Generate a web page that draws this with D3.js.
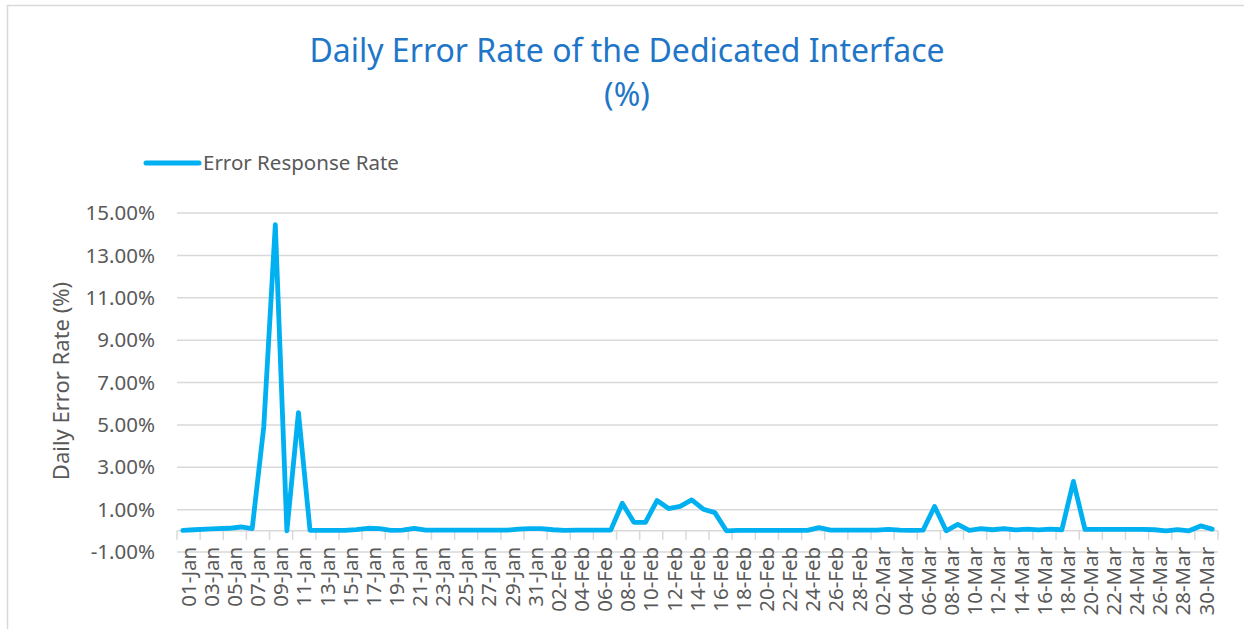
<!DOCTYPE html>
<html>
<head>
<meta charset="utf-8">
<script src="https://cdn.jsdelivr.net/npm/d3@7"></script>
<style>
  html, body { margin: 0; padding: 0; background: #fff; }
  svg { display: block; font-family: "Noto Sans", "Open Sans", sans-serif; }
</style>
</head>
<body>
<svg id="chart" width="1244" height="629"></svg>
<script>
// Category axis: one point per day, Jan-Mar
const MONTHS = ['Jan', 'Feb', 'Mar'];
const DAYS_IN_MONTH = [31, 28, 31];

// Daily error response rate, in percent
const errorRate = [
  0.02, 0.05, 0.08, 0.10, 0.12, 0.18, 0.10, 4.90, 14.45, 0.00,   // 01-10 Jan
  5.58, 0.02, 0.02, 0.02, 0.02, 0.06, 0.12, 0.10, 0.02, 0.03,    // 11-20 Jan
  0.12, 0.03, 0.03, 0.03, 0.03, 0.03, 0.03, 0.03, 0.03, 0.08,    // 21-30 Jan
  0.10, 0.10, 0.05, 0.02, 0.03, 0.03, 0.03, 0.03, 1.30, 0.40,    // 31 Jan - 09 Feb
  0.40, 1.43, 1.05, 1.15, 1.46, 1.02, 0.86, 0.00, 0.02, 0.02,    // 10-19 Feb
  0.02, 0.02, 0.02, 0.02, 0.02, 0.15, 0.03, 0.03, 0.03, 0.03,    // 20 Feb - 01 Mar
  0.03, 0.07, 0.03, 0.02, 0.03, 1.15, 0.00, 0.30, 0.02, 0.10,    // 02-11 Mar
  0.05, 0.10, 0.04, 0.08, 0.04, 0.08, 0.05, 2.33, 0.07, 0.07,    // 12-21 Mar
  0.07, 0.07, 0.07, 0.07, 0.05, 0.00, 0.06, 0.00, 0.23, 0.08     // 22-31 Mar
];

const yTicks = [-1, 1, 3, 5, 7, 9, 11, 13, 15];

const TITLE = 'Daily Error Rate of the Dedicated Interface';
const SERIES_NAME = 'Error Response Rate';
const Y_TITLE = 'Daily Error Rate (%)';

const LINE_COLOR = '#00b0f0';
const GRID_COLOR = '#d9d9d9';
const TEXT_COLOR = '#595959';
const TITLE_COLOR = '#1f76c8';

const categories = [];
MONTHS.forEach((m, i) => {
  for (let d = 1; d <= DAYS_IN_MONTH[i]; d++) {
    categories.push(String(d).padStart(2, '0') + '-' + m);
  }
});

const svg = d3.select('#chart');
const plot = { left: 177, right: 1218, top: 213, bottom: 552 };

// chart frame
svg.append('rect')
  .attr('x', 7.5).attr('y', 5.5)
  .attr('width', 1260).attr('height', 650)
  .attr('fill', '#fff')
  .attr('stroke', GRID_COLOR)
  .attr('stroke-width', 1.5);

const x = d3.scaleBand()
  .domain(categories)
  .range([plot.left, plot.right])
  .padding(0);

const y = d3.scaleLinear()
  .domain([-1, 15])
  .range([plot.bottom, plot.top]);

// gridlines
svg.append('g')
  .selectAll('line')
  .data(yTicks)
  .join('line')
  .attr('x1', plot.left).attr('x2', plot.right)
  .attr('y1', (d) => y(d)).attr('y2', (d) => y(d))
  .attr('stroke', GRID_COLOR)
  .attr('stroke-width', 1.5);

// y tick labels
svg.append('g')
  .selectAll('text')
  .data(yTicks)
  .join('text')
  .attr('x', 155)
  .attr('y', (d) => y(d))
  .attr('dy', '0.35em')
  .attr('text-anchor', 'end')
  .attr('fill', TEXT_COLOR)
  .style('font-size', '20.5px')
  .text((d) => d.toFixed(2) + '%');

// category axis crosses at 0
const axisY = y(0);
svg.append('line')
  .attr('x1', plot.left).attr('x2', plot.right)
  .attr('y1', axisY).attr('y2', axisY)
  .attr('stroke', GRID_COLOR)
  .attr('stroke-width', 1.5);

const tickIdx = d3.range(0, categories.length + 1, 2);
svg.append('g')
  .selectAll('line')
  .data(tickIdx)
  .join('line')
  .attr('x1', (i) => i < categories.length ? x(categories[i]) : plot.right)
  .attr('x2', (i) => i < categories.length ? x(categories[i]) : plot.right)
  .attr('y1', axisY).attr('y2', axisY + 9)
  .attr('stroke', GRID_COLOR)
  .attr('stroke-width', 1.5);

// x labels, every second day, centred on the two-day span
const labelled = categories.filter((c, i) => i % 2 === 0);
svg.append('g')
  .selectAll('text')
  .data(labelled)
  .join('text')
  .attr('transform', (c) => `translate(${x(c) + x.bandwidth()},${axisY + 16}) rotate(-90)`)
  .attr('dy', '0.35em')
  .attr('text-anchor', 'end')
  .attr('fill', TEXT_COLOR)
  .style('font-size', '20.5px')
  .text((c) => c);

// series line
const line = d3.line()
  .x((d, i) => x(categories[i]) + x.bandwidth() / 2)
  .y((d) => y(d));

svg.append('path')
  .datum(errorRate)
  .attr('d', line)
  .attr('fill', 'none')
  .attr('stroke', LINE_COLOR)
  .attr('stroke-width', 4.8)
  .attr('stroke-linejoin', 'round')
  .attr('stroke-linecap', 'round');

// title
svg.append('text')
  .attr('x', 627).attr('y', 62)
  .attr('text-anchor', 'middle')
  .attr('fill', TITLE_COLOR)
  .style('font-size', '32px')
  .text(TITLE);
svg.append('text')
  .attr('x', 627).attr('y', 106)
  .attr('text-anchor', 'middle')
  .attr('fill', TITLE_COLOR)
  .style('font-size', '32px')
  .text('(%)');

// legend
svg.append('line')
  .attr('x1', 146).attr('x2', 199)
  .attr('y1', 163).attr('y2', 163)
  .attr('stroke', LINE_COLOR)
  .attr('stroke-width', 5)
  .attr('stroke-linecap', 'round');
svg.append('text')
  .attr('x', 203).attr('y', 163)
  .attr('dy', '0.35em')
  .attr('fill', TEXT_COLOR)
  .style('font-size', '20.5px')
  .text(SERIES_NAME);

// y axis title
svg.append('text')
  .attr('transform', `translate(61,381) rotate(-90)`)
  .attr('dy', '0.35em')
  .attr('text-anchor', 'middle')
  .attr('fill', TEXT_COLOR)
  .style('font-size', '22px')
  .text(Y_TITLE);
</script>
</body>
</html>
